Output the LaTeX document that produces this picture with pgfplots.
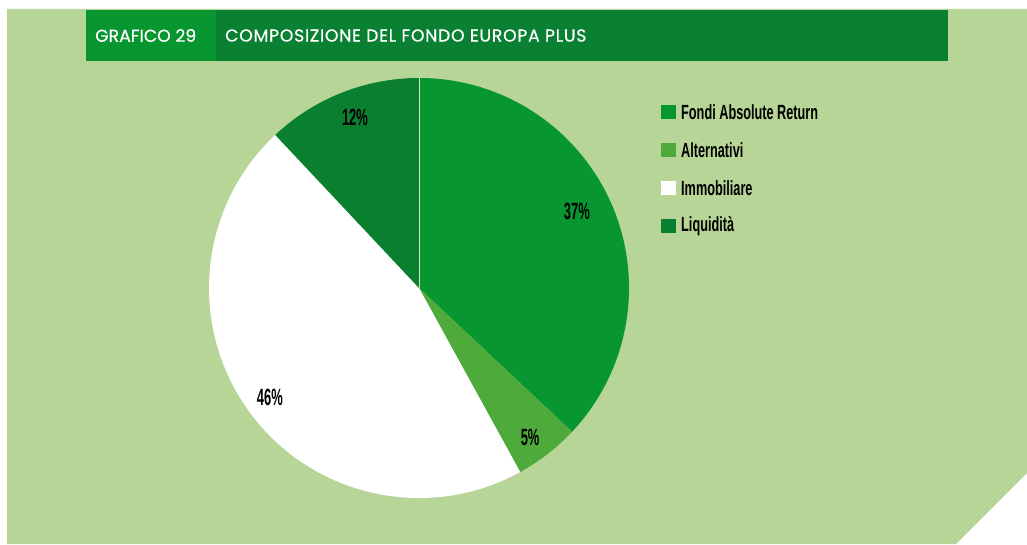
\documentclass[border=0pt]{standalone}
\usepackage{pgfplots}
\pgfplotsset{compat=1.18}
\usepackage{pgfplotstable}
\usepackage{fontspec}
\setmainfont{Poppins}
\newfontfamily\hdrfont[FakeBold=0.6]{Poppins}
\newfontfamily\ttlfont[FakeBold=0.6,LetterSpace=4]{Poppins}
\newfontfamily\condfont[FakeStretch=0.62]{Liberation Sans}
\newfontfamily\pctfont[FakeStretch=0.55]{Liberation Sans}
\definecolor{bg}{RGB}{183,213,151}
\definecolor{gA}{RGB}{7,150,47}
\definecolor{gB}{RGB}{79,170,60}
\definecolor{gD}{RGB}{10,127,48}
\definecolor{hdr}{RGB}{10,128,50}

\pgfplotstableread{
share
37
5
46
12
}\piedata

\begin{document}
\begin{tikzpicture}[x=1pt,y=1pt]
\useasboundingbox (0,0) rectangle (1027,544);
\fill[white] (0,0) rectangle (1027,544);
\fill[bg] (7,535) -- (1027,535) -- (1027,71) -- (956,0) -- (7,0) -- cycle;
\fill[hdr] (86,483) rectangle (948,534);
\fill[gA] (86,483) rectangle (216,534);
\node[anchor=west, text=white, font=\hdrfont\fontsize{17.3}{20}\selectfont, inner sep=0] at (95,508.5) {GRAFICO 29};
\node[anchor=west, text=white, font=\ttlfont\fontsize{17.3}{20}\selectfont, inner sep=0] at (225,508.5) {COMPOSIZIONE DEL FONDO EUROPA PLUS};

\pgfplotstablegetelem{0}{share}\of\piedata \pgfmathsetmacro\sA{\pgfplotsretval}
\pgfplotstablegetelem{1}{share}\of\piedata \pgfmathsetmacro\sB{\pgfplotsretval}
\pgfplotstablegetelem{2}{share}\of\piedata \pgfmathsetmacro\sC{\pgfplotsretval}
\pgfplotstablegetelem{3}{share}\of\piedata \pgfmathsetmacro\sD{\pgfplotsretval}
\pgfmathsetmacro\aA{90-3.6*\sA}
\pgfmathsetmacro\aB{\aA-3.6*\sB}
\pgfmathsetmacro\aC{\aB-3.6*\sC}
\pgfmathsetmacro\aD{\aC-3.6*\sD}

\begin{axis}[at={(419pt,256pt)}, anchor=center, scale only axis, width=420pt, height=420pt,
  xmin=-1, xmax=1, ymin=-1, ymax=1, hide axis, clip=false]
\fill[gA] (axis cs:0,0) -- ++(90:210pt) arc[start angle=90, end angle=\aA, radius=210pt] -- cycle;
\fill[gB] (axis cs:0,0) -- ++(\aA:210pt) arc[start angle=\aA, end angle=\aB, radius=210pt] -- cycle;
\fill[white] (axis cs:0,0) -- ++(\aB:210pt) arc[start angle=\aB, end angle=\aC, radius=210pt] -- cycle;
\fill[gD] (axis cs:0,0) -- ++(\aC:210pt) arc[start angle=\aC, end angle=\aD, radius=210pt] -- cycle;
\draw[bg!60!white, line width=0.4pt] (axis cs:0,0) -- ++(90:210pt);
\node[font=\pctfont\bfseries\fontsize{23.5}{26}\selectfont] at (axis cs:0.752,0.367) {37\%};
\node[font=\pctfont\bfseries\fontsize{23.5}{26}\selectfont] at (axis cs:0.529,-0.710) {5\%};
\node[font=\pctfont\bfseries\fontsize{23.5}{26}\selectfont] at (axis cs:-0.710,-0.519) {46\%};
\node[font=\pctfont\bfseries\fontsize{23.5}{26}\selectfont] at (axis cs:-0.305,0.814) {12\%};
\end{axis}

\fill[gA] (661,425) rectangle (676,439);
\fill[gB] (661,387) rectangle (676,401);
\fill[white] (661,349) rectangle (676,363);
\fill[gD] (661,311) rectangle (676,325);
\begin{scope}[every node/.style={anchor=west, inner sep=0, font=\condfont\bfseries\fontsize{20.5}{24}\selectfont}]
\node at (681,432) {Fondi Absolute Return};
\node at (681,394) {Alternativi};
\node at (681,356) {Immobiliare};
\node at (681,318) {Liquidità};
\end{scope}
\end{tikzpicture}
\end{document}
